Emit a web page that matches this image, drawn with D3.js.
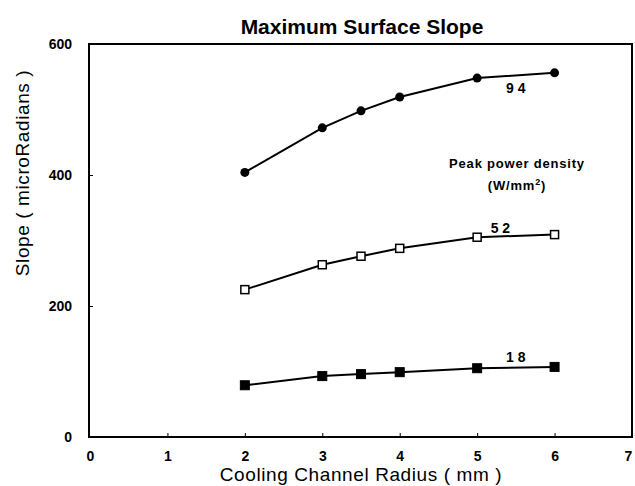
<!DOCTYPE html>
<html>
<head>
<meta charset="utf-8">
<script src="https://cdn.jsdelivr.net/npm/d3@7"></script>
<style>
  body { margin: 0; background: #fff; }
  svg { display: block; font-family: "Liberation Sans", Arial, sans-serif; }
</style>
</head>
<body>
<div id="chart"></div>
<script>
(function () {
  // radius (mm)
  const radius = [2, 3, 3.5, 4, 5, 6];
  // slope (microRadians) for each peak power density
  const slope94 = [404, 472, 498, 519, 548, 556];
  const slope52 = [225, 263, 276, 288, 305, 309];
  const slope18 = [79, 93, 96, 99, 105, 107];
  const xTicks = [0, 1, 2, 3, 4, 5, 6, 7];
  const yTicks = [0, 200, 400, 600];

  const series = [
    { name: "9 4", values: slope94, marker: "circle", labelAt: [5.5, 525] },
    { name: "5 2", values: slope52, marker: "openSquare", labelAt: [5.3, 311] },
    { name: "1 8", values: slope18, marker: "square", labelAt: [5.5, 114] }
  ];

  const width = 635, height = 486;
  const margin = { top: 43, right: 3, bottom: 49, left: 89 };

  const svg = d3.select("#chart").append("svg")
    .attr("width", width)
    .attr("height", height);

  const x = d3.scaleLinear().domain([0, 7]).range([margin.left + 1, width - margin.right]);
  const y = d3.scaleLinear().domain([0, 600]).range([height - margin.bottom, margin.top + 1]);

  // frame
  svg.append("rect")
    .attr("x", x(0) - 1).attr("y", y(600))
    .attr("width", x(7) - x(0) + 1).attr("height", y(0) - y(600))
    .attr("fill", "none").attr("stroke", "#000").attr("stroke-width", 2);

  // axes with inward ticks
  const xAxis = svg.append("g")
    .attr("transform", `translate(0,${y(0)})`)
    .call(d3.axisBottom(x).tickValues(xTicks).tickFormat(d3.format("d"))
      .tickSizeInner(-4).tickSizeOuter(0).tickPadding(14));
  const yAxis = svg.append("g")
    .attr("transform", `translate(${x(0) - 1},0)`)
    .call(d3.axisLeft(y).tickValues(yTicks).tickFormat(d3.format("d"))
      .tickSizeInner(-4).tickSizeOuter(0).tickPadding(17));

  [xAxis, yAxis].forEach(g => {
    g.select(".domain").remove();
    g.selectAll(".tick line").attr("stroke", "#000").attr("stroke-width", 1);
    g.selectAll(".tick text")
      .attr("fill", "#000")
      .style("font-size", "14px")
      .style("font-weight", "bold");
  });
  xAxis.selectAll(".tick").filter(d => d === 0 || d === 7).select("line").remove();
  xAxis.selectAll(".tick").filter(d => d === 7).select("text").attr("dx", -4);
  yAxis.selectAll(".tick").filter(d => d === 0 || d === 600).select("line").remove();

  // titles
  svg.append("text")
    .attr("x", 362).attr("y", 34)
    .attr("text-anchor", "middle")
    .style("font-size", "21px").style("font-weight", "bold")
    .text("Maximum Surface Slope");

  svg.append("text")
    .attr("x", 361).attr("y", 481)
    .attr("text-anchor", "middle")
    .style("font-size", "19px")
    .style("letter-spacing", "0.6px")
    .text("Cooling Channel Radius ( mm )");

  svg.append("text")
    .attr("transform", "translate(29,173) rotate(-90)")
    .attr("text-anchor", "middle")
    .style("font-size", "19px")
    .style("letter-spacing", "0.6px")
    .text("Slope ( microRadians )");

  // lines and markers
  const line = d3.line()
    .x((d, i) => x(radius[i]))
    .y(d => y(d));

  series.forEach(s => {
    svg.append("path")
      .datum(s.values)
      .attr("fill", "none")
      .attr("stroke", "#000")
      .attr("stroke-width", 2)
      .attr("d", line);

    const g = svg.append("g");
    if (s.marker === "circle") {
      g.selectAll("circle").data(s.values).join("circle")
        .attr("cx", (d, i) => x(radius[i]))
        .attr("cy", d => y(d))
        .attr("r", 4.5)
        .attr("fill", "#000");
    } else {
      const open = s.marker === "openSquare";
      const size = open ? 8 : 9;
      g.selectAll("rect").data(s.values).join("rect")
        .attr("x", (d, i) => x(radius[i]) - size / 2)
        .attr("y", d => y(d) - size / 2)
        .attr("width", size).attr("height", size)
        .attr("fill", open ? "#fff" : "#000")
        .attr("stroke", "#000")
        .attr("stroke-width", open ? 1.5 : 1);
    }

    svg.append("text")
      .attr("x", x(s.labelAt[0])).attr("y", y(s.labelAt[1]))
      .attr("text-anchor", "middle")
      .style("font-size", "14px")
      .style("font-weight", "bold")
      .text(s.name);
  });

  // legend note
  const note = svg.append("text")
    .attr("text-anchor", "middle")
    .style("font-size", "13px")
    .style("font-weight", "bold")
    .style("letter-spacing", "0.8px");
  note.append("tspan").attr("x", 517).attr("y", 168).text("Peak power density");
  const t2 = note.append("tspan").attr("x", 517).attr("y", 190).text("(W/mm");
  t2.append("tspan").attr("dy", -5).style("font-size", "9px").text("2");
  t2.append("tspan").attr("dy", 5).text(")");
})();
</script>
</body>
</html>
